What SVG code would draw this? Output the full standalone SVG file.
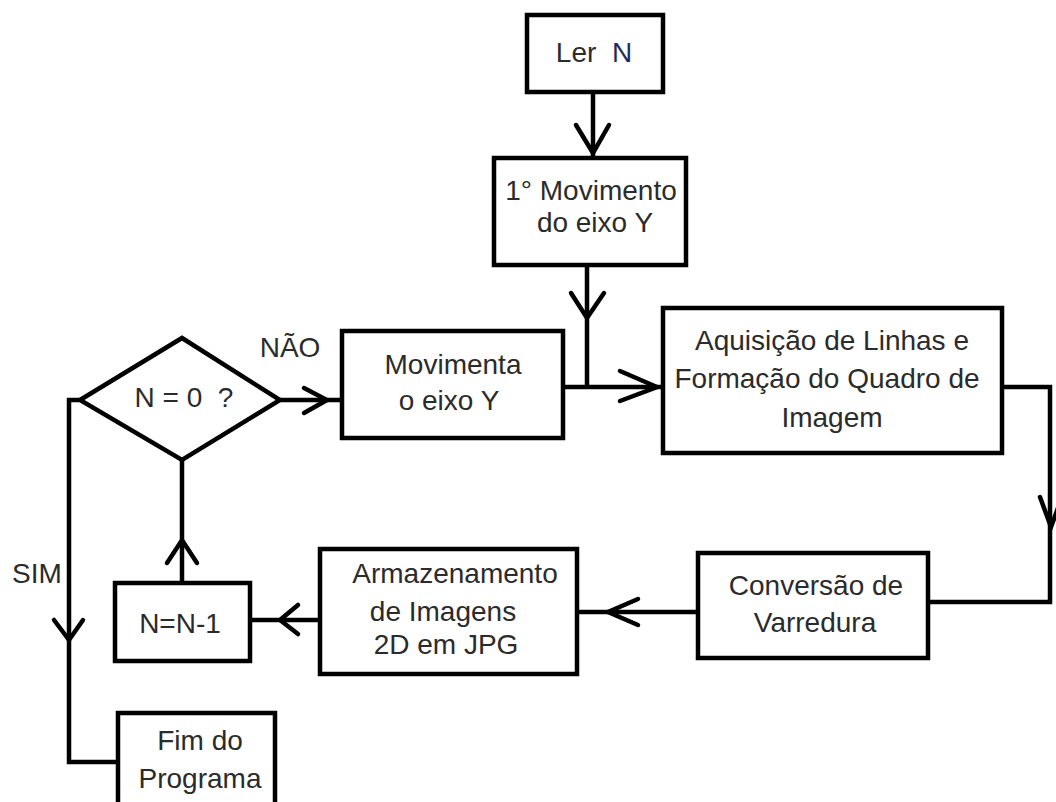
<svg xmlns="http://www.w3.org/2000/svg" width="1056" height="802" viewBox="0 0 1056 802">
<style>
.box{fill:#fff;stroke:#000;stroke-width:4.5}
.ln{fill:none;stroke:#000;stroke-width:4.5;stroke-linejoin:miter}
.ah{fill:none;stroke:#000;stroke-width:4.5;stroke-linecap:round;stroke-linejoin:miter}
text{font-family:"Liberation Sans",Arial,sans-serif;font-size:28px;fill:#2b2b2b;text-anchor:middle}
</style>
<rect x="0" y="0" width="1056" height="802" fill="#fff"/>
<g id="connectors">
  <path class="ln" d="M593,92 V156"/>
  <path class="ah" d="M576,125 L593,153 L609,125"/>
  <path class="ln" d="M587,265 V387"/>
  <path class="ah" d="M571,293 L587,318 L604,293"/>
  <path class="ln" d="M563,387 H663"/>
  <path class="ah" d="M620,371 L657,387 L620,401"/>
  <path class="ln" d="M280,400 H342"/>
  <path class="ah" d="M304,388 L327,400 L304,413"/>
  <path class="ln" d="M1002,387 H1050 V602 H928"/>
  <path class="ah" d="M1040,497 L1051,527 L1062,497"/>
  <path class="ln" d="M698,612 H577"/>
  <path class="ah" d="M638,599 L608,612 L638,625"/>
  <path class="ln" d="M320,620 H250"/>
  <path class="ah" d="M298,605 L280,620 L298,634"/>
  <path class="ln" d="M182,583 V460"/>
  <path class="ah" d="M167,563 L182,540 L197,563"/>
  <path class="ln" d="M80,400 H69 V762 H118"/>
  <path class="ah" d="M54,620 L69,640 L83,620"/>
</g>
<g id="lerN">
  <rect class="box" x="527" y="15" width="136" height="77"/>
  <text x="594" y="62" xml:space="preserve">Ler  <tspan fill="#1c2b5e">N</tspan></text>
</g>
<g id="movimento1">
  <rect class="box" x="494" y="158" width="192" height="107"/>
  <text x="591" y="200">1° Movimento</text>
  <text x="595" y="232">do eixo Y</text>
</g>
<g id="decisao">
  <polygon class="box" points="80,400 182,338 280,400 182,460"/>
  <text x="184" y="407" xml:space="preserve">N = 0  ?</text>
</g>
<g id="labelNao"><text x="290" y="357">NÃO</text></g>
<g id="labelSim"><text x="37" y="583">SIM</text></g>
<g id="movimenta">
  <rect class="box" x="342" y="331" width="221" height="107"/>
  <text x="453" y="374">Movimenta</text>
  <text x="449" y="410">o eixo Y</text>
</g>
<g id="aquisicao">
  <rect class="box" x="663" y="308" width="339" height="145"/>
  <text x="832" y="350">Aquisição de Linhas e</text>
  <text x="827" y="388">Formação do Quadro de</text>
  <text x="832" y="427">Imagem</text>
</g>
<g id="conversao">
  <rect class="box" x="698" y="553" width="230" height="105"/>
  <text x="816" y="595">Conversão de</text>
  <text x="815" y="632">Varredura</text>
</g>
<g id="armazenamento">
  <rect class="box" x="320" y="549" width="257" height="125"/>
  <text x="455" y="583">Armazenamento</text>
  <text x="443" y="621">de Imagens</text>
  <text x="446" y="654">2D em JPG</text>
</g>
<g id="decremento">
  <rect class="box" x="115" y="583" width="135" height="78"/>
  <text x="180" y="633" fill="#2a3045">N=N-1</text>
</g>
<g id="fim">
  <rect class="box" x="118" y="713" width="157" height="100"/>
  <text x="200" y="750">Fim do</text>
  <text x="200" y="788">Programa</text>
</g>
</svg>
